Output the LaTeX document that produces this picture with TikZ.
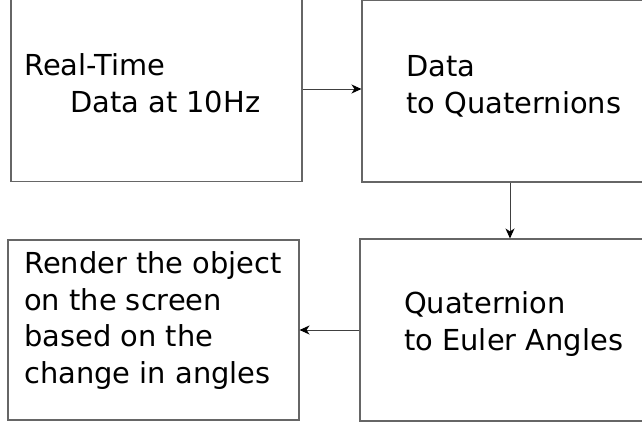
\documentclass[tikz,border=0pt]{standalone}
\usepackage{fontspec}
\setmainfont{DejaVu Sans}
\usetikzlibrary{arrows.meta}
\definecolor{boxgray}{gray}{0.4}
\definecolor{arrgray}{gray}{0.25}
\tikzset{
  stagebox/.style={draw=boxgray, line width=1.1pt, rectangle, inner sep=0pt, fill=none},
  lbl/.style={anchor=base west, inner sep=0pt, font=\fontsize{28.9}{36.5}\selectfont, text=black},
  flow/.style={draw=arrgray, line width=1pt, -{Stealth[length=10pt,width=9pt,inset=3pt,color=black]}}
}
\begin{document}
\begin{tikzpicture}[x=1pt,y=-1pt]
\useasboundingbox (0,0) rectangle (642,423);
\clip (0,0) rectangle (642,423);
\fill[white] (0,0) rectangle (642,423);
% boxes
\node[stagebox, minimum width=291pt, minimum height=186pt] (b1) at (156.5,88.5) {};
\node[stagebox, minimum width=296pt, minimum height=182pt] (b2) at (510,91) {};
\node[stagebox, minimum width=291pt, minimum height=180pt] (b3) at (153.5,330) {};
\node[stagebox, minimum width=300pt, minimum height=182pt] (b4) at (510,330) {};
% texts
\node[lbl] (t1a) at (24,75) {Real-Time};
\node[lbl] (t1b) at (70,112) {Data at 10Hz};
\node[lbl] (t2a) at (406,76) {Data};
\node[lbl] (t2b) at (406,113) {to Quaternions};
\node[lbl] (t3a) at (24,273) {Render the object};
\node[lbl] (t3b) at (24,310) {on the screen};
\node[lbl] (t3c) at (24,346.5) {based on the};
\node[lbl] (t3d) at (24,383) {change in angles};
\node[lbl] (t4a) at (404,313) {Quaternion};
\node[lbl] (t4b) at (404,350) {to Euler Angles};
% connectors
\coordinate (a1s) at (b1.east |- 0,89);
\coordinate (a1e) at (b2.west |- 0,89);
\draw[flow] (a1s) -- (a1e);
\draw[flow] (b2.south) -- (b4.north);
\draw[flow] (b4.west) -- (b3.east);
\end{tikzpicture}
\end{document}
